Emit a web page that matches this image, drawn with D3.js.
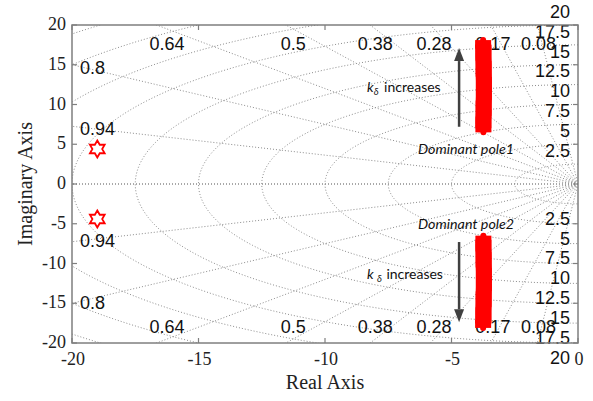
<!DOCTYPE html>
<html><head><meta charset="utf-8">
<script src="https://cdn.jsdelivr.net/npm/d3@7"></script>
<style>
html,body{margin:0;padding:0;background:#fff;}
svg{display:block;}
</style></head>
<body>
<svg id="chart" width="593" height="401"></svg>
<script>
// ---------- data ----------
const xTicks = [-20, -15, -10, -5, 0];
const yTicks = [-20, -15, -10, -5, 0, 5, 10, 15, 20];
const zetas = [0.94, 0.8, 0.64, 0.5, 0.38, 0.28, 0.17, 0.08];
const zetaLabels = ["0.94", "0.8", "0.64", "0.5", "0.38", "0.28", "0.17", "0.08"];
const wnCircles = [2.5, 5, 7.5, 10, 12.5, 15, 17.5, 20, 22.5, 25, 27.5];
const wnLabelValues = [2.5, 5, 7.5, 10, 12.5, 15, 17.5, 20];
const wnLabels = ["2.5", "5", "7.5", "10", "12.5", "15", "17.5", "20"];
const openLoopRe = [-19.0, -19.0];
const openLoopIm = [4.4, -4.4];
const locusRe = [-3.74, -3.74, -3.73, -3.73, -3.72, -3.72, -3.72, -3.73, -3.73, -3.74, -3.74, -3.75];
const locusUpperIm = [7.0, 8.0, 9.0, 10.0, 11.0, 12.0, 13.0, 14.0, 15.0, 16.0, 17.0, 17.6];
const locusLowerIm = [-7.0, -8.0, -9.0, -10.0, -11.0, -12.0, -13.0, -14.0, -15.0, -16.0, -17.0, -17.6];
const arrowRe = -4.7;
const arrowUp = [7.2, 17.1];
const arrowDown = [-7.3, -17.4];

// ---------- layout ----------
const svg = d3.select("#chart");
const L = 72, R = 578, T = 25, B = 343;
const x = d3.scaleLinear().domain([-20, 0]).range([L, R]);
const y = d3.scaleLinear().domain([-20, 20]).range([B, T]);
const gridColor = "#8c8c8c";
const axisColor = "#7f7f7f";

svg.append("defs").append("clipPath").attr("id", "plotclip")
  .append("rect").attr("x", L).attr("y", T).attr("width", R - L).attr("height", B - T);

const grid = svg.append("g").attr("clip-path", "url(#plotclip)");
const line = d3.line().x(d => x(d[0])).y(d => y(d[1]));

// wn circles (left half plane)
wnCircles.forEach(r => {
  const pts = d3.range(90, 270.01, 1).map(a => {
    const t = a * Math.PI / 180;
    return [r * Math.cos(t), r * Math.sin(t)];
  });
  grid.append("path").attr("d", line(pts))
    .attr("fill", "none").attr("stroke", gridColor)
    .attr("stroke-width", 1).attr("stroke-dasharray", "1,2");
});

// damping lines
const allZ = zetas.concat([1]);
allZ.forEach(z => {
  const s = Math.sqrt(1 - z * z);
  [1, -1].forEach(sg => {
    const t = 40;
    grid.append("path").attr("d", line([[0, 0], [-z * t, sg * s * t]]))
      .attr("fill", "none").attr("stroke", gridColor)
      .attr("stroke-width", 1).attr("stroke-dasharray", "1,2");
  });
});

// zeta labels
const labG = svg.append("g").attr("font-family", "'Liberation Sans', Arial, sans-serif")
  .attr("font-size", 18).attr("fill", "#111");
zetas.forEach((z, i) => {
  const s = Math.sqrt(1 - z * z);
  const yAtLeft = 20 * s / z; // |imag| where line meets x=-20
  if (yAtLeft < 20) {
    labG.append("text").attr("x", L + 8).attr("y", y(yAtLeft) + 4)
      .attr("dominant-baseline", "middle").text(zetaLabels[i]);
    labG.append("text").attr("x", L + 8).attr("y", y(-yAtLeft) + 1)
      .attr("dominant-baseline", "middle").text(zetaLabels[i]);
  } else {
    const xv = -19.5 * z / s;
    labG.append("text").attr("x", x(xv)).attr("y", T + 20)
      .attr("text-anchor", "middle").attr("dominant-baseline", "middle").text(zetaLabels[i]);
    labG.append("text").attr("x", x(xv)).attr("y", B - 15)
      .attr("text-anchor", "middle").attr("dominant-baseline", "middle").text(zetaLabels[i]);
  }
});
// wn labels
wnLabelValues.forEach((w, i) => {
  labG.append("text").attr("x", R - 8).attr("y", y(w) - 12)
    .attr("text-anchor", "end").attr("dominant-baseline", "middle").text(wnLabels[i]);
  labG.append("text").attr("x", R - 8).attr("y", y(-w) + 16)
    .attr("text-anchor", "end").attr("dominant-baseline", "middle").text(wnLabels[i]);
});

// root locus bars
[locusUpperIm, locusLowerIm].forEach(ims => {
  const pts = ims.map((v, i) => [locusRe[i], v]);
  svg.append("path").attr("d", line(pts)).attr("fill", "none")
    .attr("stroke", "#ff0000").attr("stroke-width", 16).attr("stroke-linecap", "butt");
  svg.selectAll(null).data(pts).enter().append("rect")
    .attr("x", d => x(d[0]) - 8).attr("y", d => y(d[1]) - 4)
    .attr("width", 16).attr("height", 8).attr("fill", "#ff0000");
  [pts[0], pts[pts.length - 1]].forEach(p => {
    const dir = p[1] > 0 ? (Math.abs(p[1]) > 10 ? -1 : 1) : (Math.abs(p[1]) > 10 ? 1 : -1);
    svg.append("circle").attr("cx", x(p[0])).attr("cy", y(p[1]) + dir * 4)
      .attr("r", 3).attr("fill", "#ff0000");
  });
});

// open-loop poles (hexagram)
function hexagram(cx, cy, Ro) {
  const ri = Ro / Math.sqrt(3);
  const pts = [];
  for (let k = 0; k < 12; k++) {
    const a = -Math.PI / 2 + k * Math.PI / 6;
    const rr = k % 2 === 0 ? Ro : ri;
    pts.push([cx + rr * Math.cos(a), cy + rr * Math.sin(a)]);
  }
  return "M" + pts.map(p => p.join(",")).join("L") + "Z";
}
openLoopRe.forEach((re, i) => {
  svg.append("path").attr("d", hexagram(x(re), y(openLoopIm[i]), 8.5))
    .attr("fill", "#fff").attr("stroke", "#ff0000").attr("stroke-width", 1.8)
    .attr("stroke-linejoin", "miter");
});

// arrows
const arrowColor = "#404040";
function arrow(y0, y1) {
  const px = x(arrowRe), p0 = y(y0), p1 = y(y1);
  const dir = p1 < p0 ? -1 : 1;
  const headLen = 13, headW = 5;
  svg.append("line").attr("x1", px).attr("x2", px).attr("y1", p0).attr("y2", p1 - dir * headLen)
    .attr("stroke", arrowColor).attr("stroke-width", 2.5);
  svg.append("path").attr("d", `M${px},${p1}L${px - headW},${p1 - dir * headLen}L${px + headW},${p1 - dir * headLen}Z`)
    .attr("fill", arrowColor);
}
arrow(arrowUp[0], arrowUp[1]);
arrow(arrowDown[0], arrowDown[1]);

// annotations
const ann = svg.append("g").attr("font-family", "Lato, 'Open Sans', sans-serif").attr("fill", "#111");
const t1 = ann.append("text").attr("x", 367).attr("y", 92).attr("font-size", 14);
t1.append("tspan").attr("font-style", "italic").text("k");
t1.append("tspan").attr("font-style", "italic").attr("font-size", 9.5).attr("dy", 3).text("δ");
t1.append("tspan").attr("dy", -3).attr("dx", 2).text(" increases");
const t2 = ann.append("text").attr("x", 367).attr("y", 279).attr("font-size", 14);
t2.append("tspan").attr("font-style", "italic").text("k ");
t2.append("tspan").attr("font-style", "italic").attr("font-size", 9.5).attr("dy", 3).text("δ");
t2.append("tspan").attr("dy", -3).attr("dx", 1).text(" increases");
ann.append("text").attr("x", 418).attr("y", 154).attr("font-size", 14.3)
  .attr("font-style", "italic").text("Dominant pole1");
ann.append("text").attr("x", 418).attr("y", 229).attr("font-size", 14.3)
  .attr("font-style", "italic").text("Dominant pole2");

// axes box and ticks
const ax = svg.append("g");
ax.append("rect").attr("x", L).attr("y", T).attr("width", R - L).attr("height", B - T)
  .attr("fill", "none").attr("stroke", axisColor).attr("stroke-width", 1.5);
const tk = 5;
xTicks.forEach(v => {
  ax.append("line").attr("x1", x(v)).attr("x2", x(v)).attr("y1", B).attr("y2", B - tk).attr("stroke", axisColor).attr("stroke-width", 1.2);
  ax.append("line").attr("x1", x(v)).attr("x2", x(v)).attr("y1", T).attr("y2", T + tk).attr("stroke", axisColor).attr("stroke-width", 1.2);
});
yTicks.forEach(v => {
  ax.append("line").attr("x1", L).attr("x2", L + tk).attr("y1", y(v)).attr("y2", y(v)).attr("stroke", axisColor).attr("stroke-width", 1.2);
  ax.append("line").attr("x1", R).attr("x2", R - tk).attr("y1", y(v)).attr("y2", y(v)).attr("stroke", axisColor).attr("stroke-width", 1.2);
});
const tl = svg.append("g").attr("font-family", "'Liberation Serif', 'Times New Roman', serif")
  .attr("font-size", 18).attr("fill", "#222");
xTicks.forEach(v => {
  tl.append("text").attr("x", x(v) + 1).attr("y", B + 18).attr("text-anchor", "middle")
    .attr("dominant-baseline", "middle").text(v);
});
yTicks.forEach(v => {
  tl.append("text").attr("x", L - 6).attr("y", y(v) + 1).attr("text-anchor", "end")
    .attr("dominant-baseline", "middle").text(v);
});
tl.append("text").attr("x", 325).attr("y", 384).attr("text-anchor", "middle")
  .attr("dominant-baseline", "middle").attr("font-size", 20).text("Real Axis");
tl.append("text").attr("transform", `translate(27,${y(0)}) rotate(-90)`).attr("text-anchor", "middle")
  .attr("dominant-baseline", "middle").attr("font-size", 20).text("Imaginary Axis");
</script>
</body></html>
